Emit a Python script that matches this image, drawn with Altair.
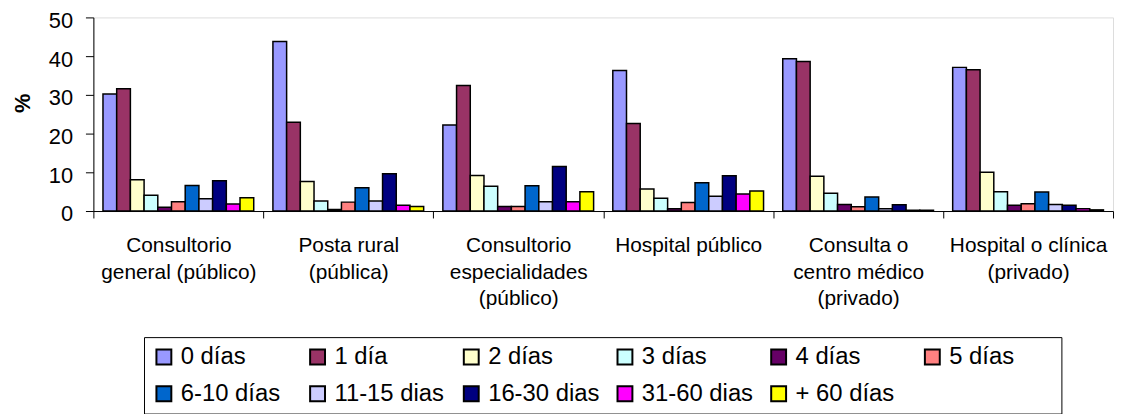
import altair as alt
import pandas as pd

categories = [
    "Consultorio|general (público)",
    "Posta rural|(pública)",
    "Consultorio|especialidades|(público)",
    "Hospital público",
    "Consulta o|centro médico|(privado)",
    "Hospital o clínica|(privado)",
]

series = ["0 días", "1 día", "2 días", "3 días", "4 días", "5 días",
          "6-10 días", "11-15 dias", "16-30 dias", "31-60 dias", "+ 60 días"]

colors = ["#9999FF", "#993366", "#FFFFCC", "#CCFFFF", "#660066", "#FF8080",
          "#0066CC", "#CCCCFF", "#000080", "#FF00FF", "#FFFF00"]

v_0 = [30.2, 43.8, 22.2, 36.3, 39.3, 37.1]
v_1 = [31.6, 22.9, 32.4, 22.6, 38.6, 36.5]
v_2 = [8.1, 7.6, 9.2, 5.7, 9.0, 10.0]
v_3 = [4.1, 2.6, 6.4, 3.3, 4.6, 5.0]
v_4 = [1.0, 0.4, 1.2, 0.6, 1.7, 1.5]
v_5 = [2.4, 2.3, 1.2, 2.2, 1.1, 1.9]
v_6_10 = [6.6, 6.0, 6.5, 7.3, 3.6, 4.9]
v_11_15 = [3.2, 2.6, 2.4, 3.8, 0.6, 1.7]
v_16_30 = [7.8, 9.6, 11.5, 9.1, 1.6, 1.5]
v_31_60 = [1.8, 1.5, 2.4, 4.4, 0.2, 0.6]
v_60 = [3.4, 1.2, 5.0, 5.2, 0.2, 0.3]

y_ticks = [0, 10, 20, 30, 40, 50]

all_values = [v_0, v_1, v_2, v_3, v_4, v_5, v_6_10, v_11_15, v_16_30, v_31_60, v_60]

rows = []
for s, vals in zip(series, all_values):
    for c, v in zip(categories, vals):
        rows.append({"cat": c, "serie": s, "value": v})
df = pd.DataFrame(rows)

FONT = "Liberation Sans"

chart = alt.Chart(df).mark_bar(stroke="black", strokeWidth=1.5).encode(
    x=alt.X("cat:N", sort=categories,
            scale=alt.Scale(paddingInner=0, paddingOuter=0),
            axis=alt.Axis(title=None, labelAngle=0, labelFontSize=21,
                          labelExpr="split(datum.label, '|')",
                          labelLineHeight=26.5, labelPadding=17, tickSize=7,
                          tickBand="extent", labelLimit=400, labelOverlap=False,
                          domainColor="black", tickColor="black",
                          labelColor="black", labelFont=FONT)),
    xOffset=alt.XOffset("serie:N", sort=series,
                        scale=alt.Scale(domain=series, paddingOuter=0.7, paddingInner=0)),
    y=alt.Y("value:Q", scale=alt.Scale(domain=[0, 50], nice=False),
            axis=alt.Axis(title="%", values=y_ticks, grid=False, labelFontSize=22,
                          labelFont=FONT, labelColor="black", tickSize=8,
                          labelPadding=13, labelOffset=3,
                          domainColor="black", tickColor="black",
                          titleFont=FONT, titleFontSize=22, titleFontWeight="bold",
                          titleColor="black", titleAngle=270, titleX=-71.5, titleY=86,
                          titleBaseline="middle", titleAlign="center")),
    color=alt.Color("serie:N", sort=series,
                    scale=alt.Scale(domain=series, range=colors),
                    legend=alt.Legend(title=" ", titleOrient="right", titlePadding=40,
                                      titleFontSize=24,
                                      orient="none", legendX=51, legendY=322,
                                      direction="horizontal", columns=6, gridAlign="all",
                                      symbolType="square", symbolSize=225,
                                      symbolStrokeColor="black", symbolStrokeWidth=2,
                                      symbolOpacity=1,
                                      labelFont=FONT, labelFontSize=24, labelColor="black",
                                      labelOffset=5, columnPadding=12.8, rowPadding=13,
                                      padding=8, strokeColor="black", fillColor="white",
                                      labelLimit=300)),
).properties(
    width=1027,
    height=195,
    autosize=alt.AutoSizeParams(type="none"),
    padding={"left": 86, "top": 8, "right": 4, "bottom": 211},
).configure_view(
    fill="#C0C0C0", strokeWidth=0
).configure(
    font=FONT, background="white"
)

chart.save("out.html", embed_options={"renderer": "svg", "actions": False})
